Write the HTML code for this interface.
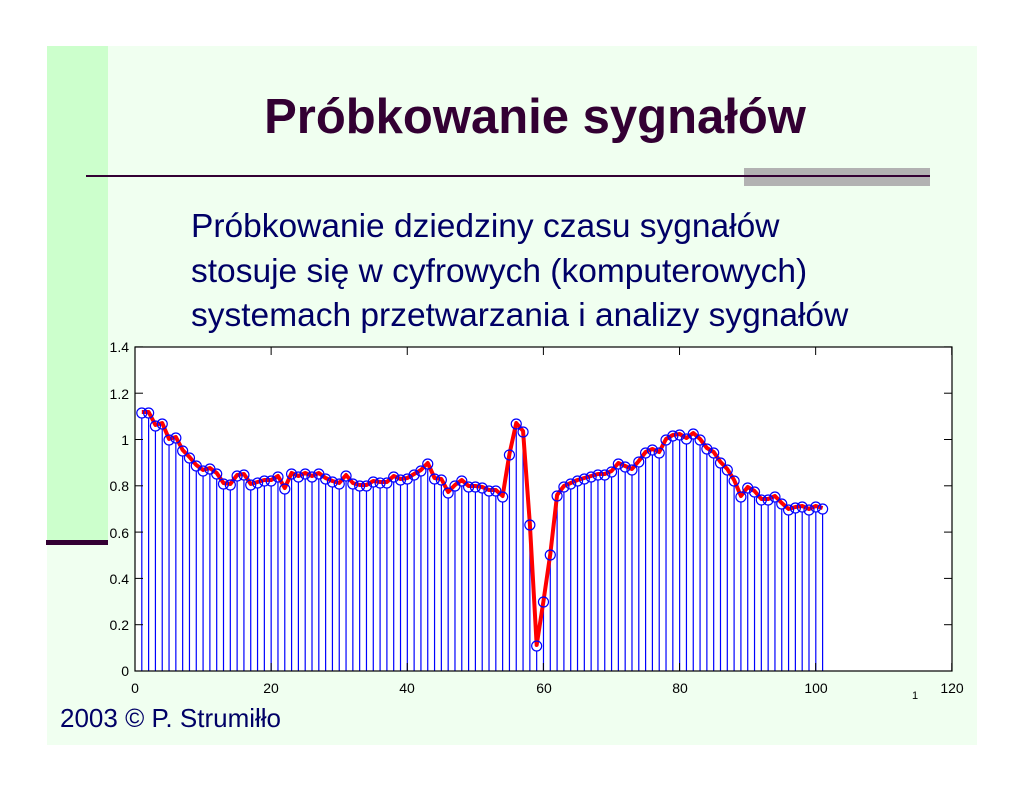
<!DOCTYPE html>
<html><head><meta charset="utf-8"><style>
body{margin:0;width:1024px;height:791px;background:#fff;position:relative;overflow:hidden;font-family:"Liberation Sans",sans-serif}
.abs{position:absolute}
</style></head><body>
<div class="abs" style="left:47px;top:46px;width:930px;height:699px;background:#f0fff0"></div>
<div class="abs" style="left:47px;top:46px;width:61px;height:494px;background:#ccffcc"></div>
<div class="abs" style="left:46px;top:540px;width:62px;height:5px;background:#330033"></div>
<div class="abs" style="left:744px;top:168px;width:186px;height:18px;background:#b2b2b2"></div>
<div class="abs" style="left:86px;top:175px;width:844px;height:2px;background:#330033"></div>
<div class="abs" style="left:0;width:1070px;top:89px;text-align:center;font-weight:bold;font-size:49px;color:#330033;white-space:nowrap">Próbkowanie sygnałów</div>
<div class="abs" style="left:191px;top:205px;font-size:33.5px;line-height:44.5px;color:#000066;white-space:nowrap">Próbkowanie dziedziny czasu sygnałów<br>stosuje się w cyfrowych (komputerowych)<br>systemach przetwarzania i analizy sygnałów</div>
<div class="abs" style="left:60px;top:703px;font-size:26px;color:#000066;white-space:nowrap">2003 © P. Strumiłło</div>
<svg class="abs" style="left:0;top:0" width="1024" height="791" id="s">
<rect x="135" y="347" width="817" height="324" fill="#fff"/>
<g id="g"></g>
<rect x="135" y="347" width="817" height="324" fill="none" stroke="#000" stroke-width="1.2"/>
<g font-size="14" fill="#000" font-family="Liberation Sans, sans-serif">
<text x="129" y="676" text-anchor="end">0</text>
<text x="129" y="630" text-anchor="end">0.2</text>
<text x="129" y="584" text-anchor="end">0.4</text>
<text x="129" y="538" text-anchor="end">0.6</text>
<text x="129" y="491" text-anchor="end">0.8</text>
<text x="129" y="445" text-anchor="end">1</text>
<text x="129" y="399" text-anchor="end">1.2</text>
<text x="129" y="352" text-anchor="end">1.4</text>
<text x="135" y="693" text-anchor="middle">0</text>
<text x="271" y="693" text-anchor="middle">20</text>
<text x="407" y="693" text-anchor="middle">40</text>
<text x="544" y="693" text-anchor="middle">60</text>
<text x="680" y="693" text-anchor="middle">80</text>
<text x="816" y="693" text-anchor="middle">100</text>
<text x="952" y="693" text-anchor="middle">120</text>
<text x="915" y="699" text-anchor="middle" font-size="11">1</text>
</g>
</svg>
<script>
var Y=[413,413,426,424,440,438,451,458,466,471,469,474,484,485,476,475,485,483,481,481,477,489,474,477,474,477,474,479,482,484,476,484,486,486,482,483,483,477,480,479,475,471,464,479,480,493,486,481,487,487,488,491,491,497,455,424,432,525,646,602,555,496,487,484,481,479,477,475,475,472,464,467,470,462,453,450,453,440,436,435,439,434,440,449,453,463,470,481,497,488,492,500,500,497,504,510,508,507,510,507,509];
var g=document.getElementById('g'),h='',pts=[];
for(var i=0;i<Y.length;i++){var x=135+6.808*(i+1);var y=Y[i];
h+='<line x1="'+x+'" y1="671" x2="'+x+'" y2="'+(y+5)+'" stroke="#0000ff" stroke-width="1.2"/>';
pts.push(x+','+(y-1));}
for(var k=0;k<=6;k++){var tx=135+136.13*k;h+='<line x1="'+tx+'" y1="671" x2="'+tx+'" y2="663" stroke="#000"/><line x1="'+tx+'" y1="347" x2="'+tx+'" y2="355" stroke="#000"/>';}
for(var k=0;k<=7;k++){var ty=671-46.3*k;h+='<line x1="135" y1="'+ty+'" x2="143" y2="'+ty+'" stroke="#000"/><line x1="952" y1="'+ty+'" x2="944" y2="'+ty+'" stroke="#000"/>';}
h+='<polyline points="'+pts.join(' ')+'" fill="none" stroke="#ff0000" stroke-width="4" stroke-linejoin="round"/>';
for(var i=0;i<Y.length;i++){var x=135+6.808*(i+1);h+='<circle cx="'+x+'" cy="'+Y[i]+'" r="5" fill="none" stroke="#0000ff" stroke-width="1.2"/>';}
g.innerHTML=h;
</script>
</body></html>
